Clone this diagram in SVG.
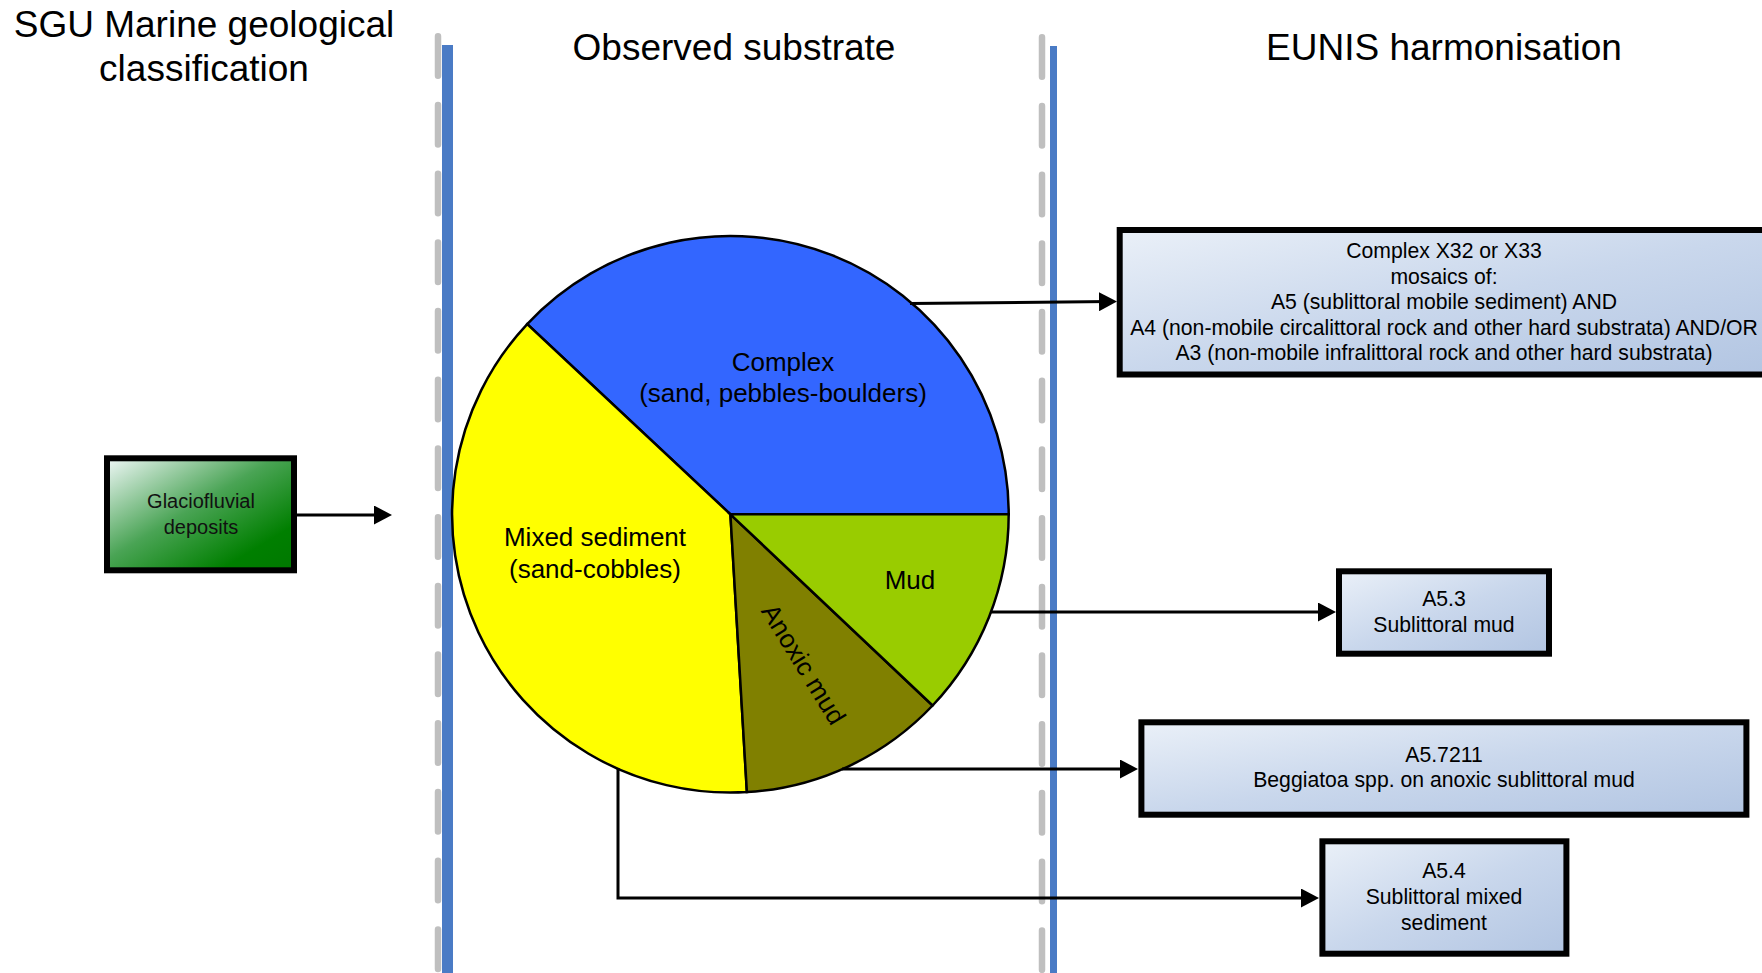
<svg xmlns="http://www.w3.org/2000/svg" width="1762" height="973" viewBox="0 0 1762 973">
  <style>
    text { font-family: "Liberation Sans", Arial, sans-serif; fill: #000; }
    .head { font-size: 37px; text-anchor: middle; }
    .pie { font-size: 26px; text-anchor: middle; }
    .box { font-size: 21.2px; text-anchor: middle; }
    .gbox { font-size: 20px; text-anchor: middle; fill: #111; }
    .slice { stroke: #000; stroke-width: 2.5; stroke-linejoin: miter; }
    .conn { fill: none; stroke: #000; stroke-width: 3; marker-end: url(#arrow); }
    .gray { stroke: #bfbfbf; stroke-width: 6.5; stroke-linecap: round; stroke-dasharray: 39.5 29.2; }
    .blue { stroke: #4a7bc5; }
    .ebox { fill: url(#blueGrad); stroke: #000; stroke-width: 6; }
  </style>
  <defs>
    <linearGradient id="blueGrad" x1="0" y1="0" x2="1" y2="1">
      <stop offset="0" stop-color="#eaf0f8"/>
      <stop offset="0.5" stop-color="#c9d7ec"/>
      <stop offset="1" stop-color="#b2c5e2"/>
    </linearGradient>
    <linearGradient id="greenGrad" x1="0" y1="0" x2="1" y2="1">
      <stop offset="0" stop-color="#f0f8f8"/>
      <stop offset="0.45" stop-color="#4aa455"/>
      <stop offset="0.8" stop-color="#007f00"/>
      <stop offset="1" stop-color="#007800"/>
    </linearGradient>
    <marker id="arrow" viewBox="0 0 18 19" markerWidth="18" markerHeight="19" refX="12" refY="9.5" markerUnits="userSpaceOnUse" orient="auto">
      <path d="M0,0 L18,9.5 L0,19 Z" fill="#000"/>
    </marker>
  </defs>
  <rect x="0" y="0" width="1762" height="973" fill="#fff"/>

  <g id="separators">
    <line class="gray" x1="438" y1="36.3" x2="438" y2="973"/>
    <line class="gray" x1="1042" y1="37.3" x2="1042" y2="973"/>
    <line class="blue" x1="447.5" y1="45" x2="447.5" y2="973" stroke-width="11"/>
    <line class="blue" x1="1053.5" y1="46" x2="1053.5" y2="973" stroke-width="7"/>
  </g>

  <g id="headings">
    <text class="head" x="204" y="37">SGU Marine geological</text>
    <text class="head" x="204" y="81">classification</text>
    <text class="head" x="734" y="60">Observed substrate</text>
    <text class="head" x="1444" y="60">EUNIS harmonisation</text>
  </g>

  <g id="glaciofluvial">
    <rect x="107" y="458.3" width="187" height="112" fill="url(#greenGrad)" stroke="#000" stroke-width="6"/>
    <text class="gbox" x="201" y="508">Glaciofluvial</text>
    <text class="gbox" x="201" y="534">deposits</text>
  </g>

  <g id="pie">
    <g id="complex">
      <path class="slice" fill="#3366ff" d="M730.4,514.3 L1008.7,514.3 A278.3,278.3 0 0 0 527.2,324.1 Z"/>
      <text class="pie" x="783" y="371">Complex</text>
      <text class="pie" x="783" y="402">(sand, pebbles-boulders)</text>
    </g>
    <g id="mixed">
      <path class="slice" fill="#ffff00" d="M730.4,514.3 L527.2,324.1 A278.3,278.3 0 0 0 746.9,792.1 Z"/>
      <text class="pie" x="595" y="546">Mixed sediment</text>
      <text class="pie" x="595" y="578">(sand-cobbles)</text>
    </g>
    <g id="anoxic">
      <path class="slice" fill="#808000" d="M730.4,514.3 L746.9,792.1 A278.3,278.3 0 0 0 932.6,705.5 Z"/>
      <text class="pie" transform="translate(796,669) rotate(58.5)" x="0" y="0">Anoxic mud</text>
    </g>
    <g id="mud">
      <path class="slice" fill="#99cc00" d="M730.4,514.3 L932.6,705.5 A278.3,278.3 0 0 0 1008.7,514.3 Z"/>
      <text class="pie" x="910" y="589">Mud</text>
    </g>
  </g>

  <g id="box-complex">
    <rect class="ebox" x="1119.7" y="230" width="660" height="144.5"/>
    <text class="box" x="1444" y="258">Complex X32 or X33</text>
    <text class="box" x="1444" y="283.6">mosaics of:</text>
    <text class="box" x="1444" y="309.2">A5 (sublittoral mobile sediment) AND</text>
    <text class="box" x="1444" y="334.8">A4 (non-mobile circalittoral rock and other hard substrata) AND/OR</text>
    <text class="box" x="1444" y="360.4">A3 (non-mobile infralittoral rock and other hard substrata)</text>
  </g>

  <g id="box-a53">
    <rect class="ebox" x="1339" y="571.3" width="210" height="82.4"/>
    <text class="box" x="1444" y="606">A5.3</text>
    <text class="box" x="1444" y="632">Sublittoral mud</text>
  </g>

  <g id="box-a57211">
    <rect class="ebox" x="1141.4" y="722.3" width="605" height="92.4"/>
    <text class="box" x="1444" y="761.5">A5.7211</text>
    <text class="box" x="1444" y="787">Beggiatoa spp. on anoxic sublittoral mud</text>
  </g>

  <g id="box-a54">
    <rect class="ebox" x="1322.4" y="841.3" width="244" height="112.4"/>
    <text class="box" x="1444" y="878">A5.4</text>
    <text class="box" x="1444" y="904">Sublittoral mixed</text>
    <text class="box" x="1444" y="930">sediment</text>
  </g>

  <g id="connectors">
    <path class="conn" d="M297,515 L386,515"/>
    <path class="conn" d="M910,303.5 L1111,301.6"/>
    <path class="conn" d="M991,612 L1330,612"/>
    <path class="conn" d="M842,769 L1132,769"/>
    <path class="conn" d="M618,768 L618,898 L1313,898"/>
  </g>
</svg>
